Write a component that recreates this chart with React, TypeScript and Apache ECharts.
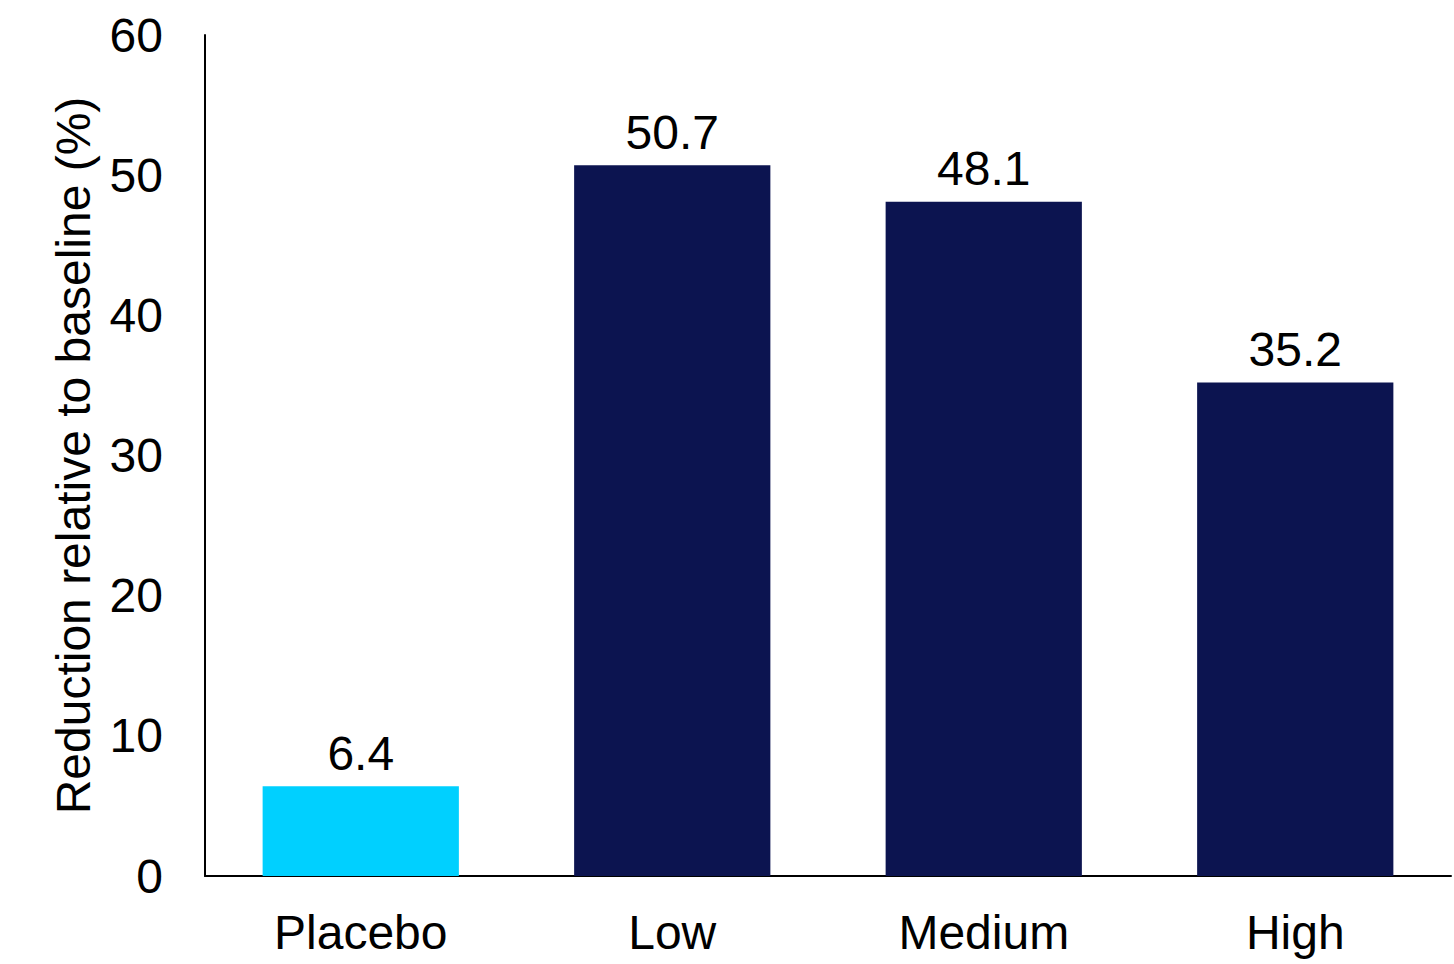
import React, { useEffect, useRef } from "react";
import * as echarts from "echarts";

const categories = ["Placebo", "Low", "Medium", "High"];
const values = [6.4, 50.7, 48.1, 35.2];
const barColors = ["#00D0FF", "#0C1450", "#0C1450", "#0C1450"];
const yTicks = { min: 0, max: 60, interval: 10 };

export default function App() {
  const ref = useRef<HTMLDivElement>(null);
  useEffect(() => {
    if (!ref.current) return;
    const chart = echarts.init(ref.current, undefined, { renderer: "svg" });
    const font = "'Liberation Sans', Arial, sans-serif";
    chart.setOption({
      animation: false,
      backgroundColor: "#ffffff",
      grid: { left: 205, right: 3, top: 35, bottom: 88, containLabel: false },
      xAxis: {
        type: "category",
        data: categories,
        axisLine: { show: true, lineStyle: { color: "#000", width: 2 } },
        axisTick: { show: false },
        axisLabel: { color: "#000", fontSize: 48, fontFamily: font, margin: 32 },
      },
      yAxis: {
        type: "value",
        min: yTicks.min,
        max: yTicks.max,
        interval: yTicks.interval,
        name: "Reduction relative to baseline (%)",
        nameLocation: "middle",
        nameGap: 108,
        nameRotate: 90,
        nameTextStyle: { color: "#000", fontSize: 48, fontFamily: font },
        axisLine: { show: true, lineStyle: { color: "#000", width: 2 } },
        axisTick: { show: false },
        splitLine: { show: false },
        axisLabel: { color: "#000", fontSize: 48, fontFamily: font, margin: 42 },
      },
      series: [
        {
          type: "bar",
          data: values.map((v, i) => ({ value: v, itemStyle: { color: barColors[i] } })),
          barWidth: "63%",
          label: {
            show: true,
            position: "top",
            distance: 9,
            color: "#000",
            fontSize: 48,
            fontFamily: font,
          },
        },
      ],
    });
    return () => chart.dispose();
  }, []);
  return (
    <div
      ref={ref}
      style={{ position: "fixed", left: 0, top: 0, width: 1454, height: 964, background: "#fff" }}
    />
  );
}
